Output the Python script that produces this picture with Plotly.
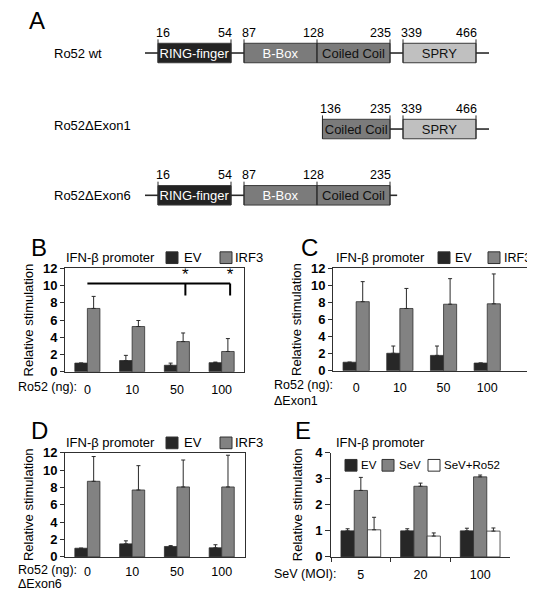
import numpy as np
import plotly.graph_objects as go

# ---------------- data ----------------
CONSTRUCTS = ["Ro52 wt", "Ro52\u0394Exon1", "Ro52\u0394Exon6"]
WT_DOMAINS = ["RING-finger", "B-Box", "Coiled Coil", "SPRY"]
WT_START = [16, 87, 128, 339]
WT_END = [54, 128, 235, 466]
EX1_DOMAINS = ["Coiled Coil", "SPRY"]
EX1_START = [136, 339]
EX1_END = [235, 466]
EX6_DOMAINS = ["RING-finger", "B-Box", "Coiled Coil"]
EX6_START = [16, 87, 128]
EX6_END = [54, 128, 235]

DOSES = ["0", "10", "50", "100"]
MOI = ["5", "20", "100"]

B_EV = [1.0, 1.3, 0.75, 1.05]
B_EV_ERR = [0.0, 0.6, 0.25, 0.07]
B_IRF3 = [7.35, 5.25, 3.5, 2.35]
B_IRF3_ERR = [1.4, 0.7, 1.0, 1.5]

C_EV = [1.0, 2.05, 1.8, 0.9]
C_EV_ERR = [0.0, 0.85, 1.1, 0.0]
C_IRF3 = [8.1, 7.3, 7.8, 7.85]
C_IRF3_ERR = [2.35, 2.35, 3.0, 3.5]

D_EV = [1.0, 1.5, 1.2, 1.05]
D_EV_ERR = [0.0, 0.35, 0.1, 0.35]
D_IRF3 = [8.7, 7.7, 8.05, 8.05]
D_IRF3_ERR = [2.85, 2.8, 3.1, 3.65]

E_EV = [1.0, 1.0, 1.0]
E_EV_ERR = [0.08, 0.08, 0.1]
E_SEV = [2.55, 2.71, 3.07]
E_SEV_ERR = [0.5, 0.12, 0.07]
E_SEVRO = [1.04, 0.8, 0.99]
E_SEVRO_ERR = [0.48, 0.12, 0.12]

SIG_GROUPS = [2, 3]           # groups significantly different from group 0 (panel B)

# ---------------- style / layout ----------------
# page has an 8 px body margin: the figure is sized to fit the 535x600 window
PAGE_W, PAGE_H, OFF = 535, 600, 8
W, H = PAGE_W - OFF, PAGE_H - OFF
FONT = "Liberation Sans, Arial, Helvetica, sans-serif"
C_EVc = "#272727"
C_GRAY = "#828282"
EDGE = "#303030"
DOM_STYLE = {
    "RING-finger": ("#232323", "white"),
    "B-Box": ("#7b7b7b", "white"),
    "Coiled Coil": ("#7b7b7b", "#111111"),
    "SPRY": ("#c0c0c0", "#111111"),
}


def px(x):
    return (x - OFF) / W


def py(y):
    return 1 - (y - OFF) / H


fig = go.Figure()
annotations = []
shapes = []


def ann(text, x, y, size=13, xanchor="left", ref="paper", **kw):
    if ref == "paper":
        annotations.append(dict(text=text, x=px(x), y=py(y), xref="paper", yref="paper",
                                xanchor=xanchor, yanchor="middle", showarrow=False,
                                font=dict(family=FONT, size=size, color="black"), **kw))
    else:
        annotations.append(dict(text=text, x=x, y=y, xref=ref[0], yref=ref[1],
                                xanchor=xanchor, yanchor="middle", showarrow=False,
                                font=dict(family=FONT, size=size, color="black"), **kw))


# ---------------- panel A: domain schematic ----------------
LINK = 13 / 73.0
anch_aa, anch_u = [], []
u = 0.0
prev_end = None
for s, e in zip(WT_START, WT_END):
    if prev_end is not None and s > prev_end:
        u += LINK
    if prev_end is None or s != prev_end:
        anch_aa.append(s)
        anch_u.append(u)
    u += 1.0
    anch_aa.append(e)
    anch_u.append(u)
    prev_end = e


def aa2u(a):
    return float(np.interp(a, anch_aa, anch_u))


UNIT_PX = 73.0
X0_PX = 158.0
ROW_Y = [47, 125, 193]
BOX_H = 20
N_TAIL = [LINK, 0.0, LINK]
C_TAIL = [LINK, LINK, LINK * 0.55]

rows = [(WT_DOMAINS, WT_START, WT_END), (EX1_DOMAINS, EX1_START, EX1_END),
        (EX6_DOMAINS, EX6_START, EX6_END)]

# backbone segments (only where no domain box is drawn)
for r, (names, starts, ends) in enumerate(rows):
    yc = ROW_Y[r]
    lx, ly = [], []
    cur = aa2u(starts[0]) - N_TAIL[r]
    for s, e in zip(starts, ends):
        if aa2u(s) > cur + 1e-9:
            lx += [cur, aa2u(s), None]
            ly += [yc, yc, None]
        cur = aa2u(e)
    end_u = aa2u(ends[-1]) + C_TAIL[r]
    lx += [cur, end_u, None]
    ly += [yc, yc, None]
    fig.add_trace(go.Scatter(x=lx, y=ly, mode="lines",
                             line=dict(color="#2a2a2a", width=1.6),
                             xaxis="x5", yaxis="y5", showlegend=False, hoverinfo="skip"))

for r, (names, starts, ends) in enumerate(rows):
    yc = ROW_Y[r]
    base = [aa2u(s) for s in starts]
    length = [aa2u(e) - aa2u(s) for s, e in zip(starts, ends)]
    fig.add_trace(go.Bar(
        y=[yc] * len(names), x=length, base=base, orientation="h", width=BOX_H,
        marker=dict(color=[DOM_STYLE[n][0] for n in names], line=dict(color="#3a3a3a", width=1)),
        text=names, textposition="inside", insidetextanchor="middle", textangle=0,
        constraintext="none",
        textfont=dict(family=FONT, size=13, color=[DOM_STYLE[n][1] for n in names]),
        xaxis="x5", yaxis="y5", showlegend=False, hoverinfo="skip"))
    # boundary ticks
    tx, ty = [], []
    bounds = sorted(set(starts) | set(ends))
    top = yc - BOX_H / 2
    for b in bounds:
        tx += [aa2u(b), aa2u(b), None]
        ty += [top - 4, top + BOX_H, None]
    fig.add_trace(go.Scatter(x=tx, y=ty, mode="lines", line=dict(color="#2a2a2a", width=1),
                             xaxis="x5", yaxis="y5", showlegend=False, hoverinfo="skip"))
    # numbers
    for b in bounds:
        is_start = b in starts
        is_end = b in ends
        if is_start and is_end:
            xa, xs = "center", -4
        elif is_start:
            xa, xs = "left", -4
        else:
            xa, xs = "right", 3
        ann(str(b), aa2u(b), top - 11, size=12.5, xanchor=xa, ref=("x5", "y5"), xshift=xs)
    ann(CONSTRUCTS[r], 52, yc + (0 if r != 1 else -4), size=13)

ann("A", 27, 14, size=24)

# ---------------- bar panels ----------------
ERR = dict(type="data", symmetric=False, color="#2a2a2a", thickness=1, width=2)


def add_bar(xs, ys, errs, color, xa, ya, width, offset):
    fig.add_trace(go.Bar(
        x=xs, y=ys, width=width, offset=offset,
        marker=dict(color=color, line=dict(color=EDGE, width=0.8)),
        error_y=dict(array=errs, arrayminus=[0] * len(errs), **ERR),
        xaxis=xa, yaxis=ya, showlegend=False, hoverinfo="skip"))


grp = list(range(4))
add_bar(grp, B_EV, B_EV_ERR, C_EVc, "x", "y", 0.28, -0.28)
add_bar(grp, B_IRF3, B_IRF3_ERR, C_GRAY, "x", "y", 0.28, 0.0)
add_bar(grp, C_EV, C_EV_ERR, C_EVc, "x2", "y2", 0.30, -0.30)
add_bar(grp, C_IRF3, C_IRF3_ERR, C_GRAY, "x2", "y2", 0.30, 0.0)
add_bar(grp, D_EV, D_EV_ERR, C_EVc, "x3", "y3", 0.28, -0.28)
add_bar(grp, D_IRF3, D_IRF3_ERR, C_GRAY, "x3", "y3", 0.28, 0.0)
add_bar(MOI, E_EV, E_EV_ERR, C_EVc, "x4", "y4", 0.222, -0.333)
add_bar(MOI, E_SEV, E_SEV_ERR, C_GRAY, "x4", "y4", 0.222, -0.111)
add_bar(MOI, E_SEVRO, E_SEVRO_ERR, "white", "x4", "y4", 0.222, 0.111)

# significance bracket (panel B)
SIG_Y, SIG_DROP, STAR_Y, SIG_DX = 10.25, 8.85, 11.1, 0.19
bx = [0, max(SIG_GROUPS) + SIG_DX, None]
by = [SIG_Y, SIG_Y, None]
for g in SIG_GROUPS:
    bx += [g + SIG_DX, g + SIG_DX, None]
    by += [SIG_Y, SIG_DROP, None]
fig.add_trace(go.Scatter(x=bx, y=by, mode="lines", line=dict(color="black", width=2),
                         xaxis="x", yaxis="y", showlegend=False, hoverinfo="skip"))
fig.add_trace(go.Scatter(x=[g + SIG_DX for g in SIG_GROUPS], y=[STAR_Y] * len(SIG_GROUPS),
                         mode="text", text=["*"] * len(SIG_GROUPS),
                         textfont=dict(family=FONT, size=17, color="black"),
                         xaxis="x", yaxis="y", showlegend=False, hoverinfo="skip"))

# ---------------- axes ----------------
TICKFONT_Y = dict(family=FONT, size=13, color="black", weight="bold")
TICKFONT_X = dict(family=FONT, size=12.5, color="black")
TITLE_Y = dict(text="Relative stimulation", font=dict(family=FONT, size=13, color="black"))


def yaxis(dom, rng, dtick, mirror, standoff, ticklen=4):
    return dict(domain=[py(dom[1]), py(dom[0])], range=rng, dtick=dtick, showgrid=False,
                zeroline=False, showline=True, linecolor=EDGE, linewidth=1, mirror=mirror,
                ticks="outside", ticklen=ticklen, tickcolor=EDGE, tickfont=TICKFONT_Y,
                title=dict(TITLE_Y, standoff=standoff), fixedrange=True)


def xaxis_num(dom, rng, standoff):
    return dict(domain=[px(dom[0]), px(dom[1])], range=rng, tickvals=grp, ticktext=DOSES,
                showgrid=False, zeroline=False, showline=True, linecolor=EDGE, linewidth=1,
                mirror=True, ticks="", tickfont=TICKFONT_X, ticklabelstandoff=standoff,
                fixedrange=True)


layout_axes = dict(
    xaxis=dict(xaxis_num((65, 244), [-0.5, 3.5], 6), anchor="y"),
    yaxis=dict(yaxis((268, 374), [0, 12], 2, True, 6), anchor="x"),
    xaxis2=dict(xaxis_num((333, 527), [-0.53, 3.91], 5), anchor="y2"),
    yaxis2=dict(yaxis((268, 373), [0, 12], 2, True, 6), anchor="x2"),
    xaxis3=dict(xaxis_num((65, 245), [-0.5, 3.52], 3), anchor="y3"),
    yaxis3=dict(yaxis((457, 564), [0, 12], 2, True, 6), anchor="x3"),
    xaxis4=dict(domain=[px(331), px(510)], type="category", tickson="boundaries",
                showgrid=False, zeroline=False, showline=True, linecolor=EDGE, linewidth=1,
                ticks="outside", ticklen=4, tickcolor=EDGE, tickfont=TICKFONT_X,
                ticklabelstandoff=6, anchor="y4", fixedrange=True),
    yaxis4=dict(yaxis((457, 564), [0, 4], 1, False, 9, ticklen=5), anchor="x4"),
    xaxis5=dict(domain=[0, 1], range=[(OFF - X0_PX) / UNIT_PX, (PAGE_W - X0_PX) / UNIT_PX],
                visible=False, anchor="y5", fixedrange=True),
    yaxis5=dict(domain=[0, 1], range=[PAGE_H, OFF], visible=False, anchor="x5",
                fixedrange=True),
)

# ---------------- panel titles, letters, legends, axis captions ----------------
for letter, x, y in [("B", 29, 247), ("C", 299, 247), ("D", 29, 434), ("E", 293, 434)]:
    ann(letter, x, y, size=24)

for x, y in [(64, 257), (334, 257), (64, 447), (334, 447)]:
    ann("IFN-\u03b2 promoter", x, y, size=13)


def legend_item(label, color, x_sq, x_txt, y, size=13, sq=12):
    shapes.append(dict(type="rect", xref="paper", yref="paper",
                       x0=px(x_sq), x1=px(x_sq + sq), y0=py(y + sq / 2), y1=py(y - sq / 2),
                       fillcolor=color, line=dict(color=EDGE, width=1)))
    ann(label, x_txt, y, size=size)


for (x1, x2, t1, t2, y, fs) in [(166, 220, 182, 233, 257, 13), (438, 488, 453, 502, 257, 12.5),
                                (166, 220, 182, 233, 447, 13)]:
    legend_item("EV", C_EVc, x1, t1, y, size=fs)
    legend_item("IRF3", C_GRAY, x2, t2, y, size=fs)

legend_item("EV", C_EVc, 345, 359, 470, size=11.5)
legend_item("SeV", C_GRAY, 382, 397, 470, size=11.5)
legend_item("SeV+Ro52", "white", 428, 442, 470, size=11.5)

ann("Ro52 (ng):", 16, 390, size=12.5)
ann("Ro52 (ng):", 272, 388, size=12.5)
ann("\u0394Exon1", 272, 404, size=12.5)
ann("Ro52 (ng):", 16, 577, size=12.5)
ann("\u0394Exon6", 16, 592, size=12.5)
ann("SeV (MOI):", 272, 582, size=12.5)

fig.update_layout(
    width=W, height=H, margin=dict(l=0, r=0, t=0, b=0),
    paper_bgcolor="white", plot_bgcolor="rgba(0,0,0,0)",
    barmode="overlay", showlegend=False,
    font=dict(family=FONT, size=13, color="black"),
    annotations=annotations, shapes=shapes,
    **layout_axes,
)

fig.write_html("out.html")
